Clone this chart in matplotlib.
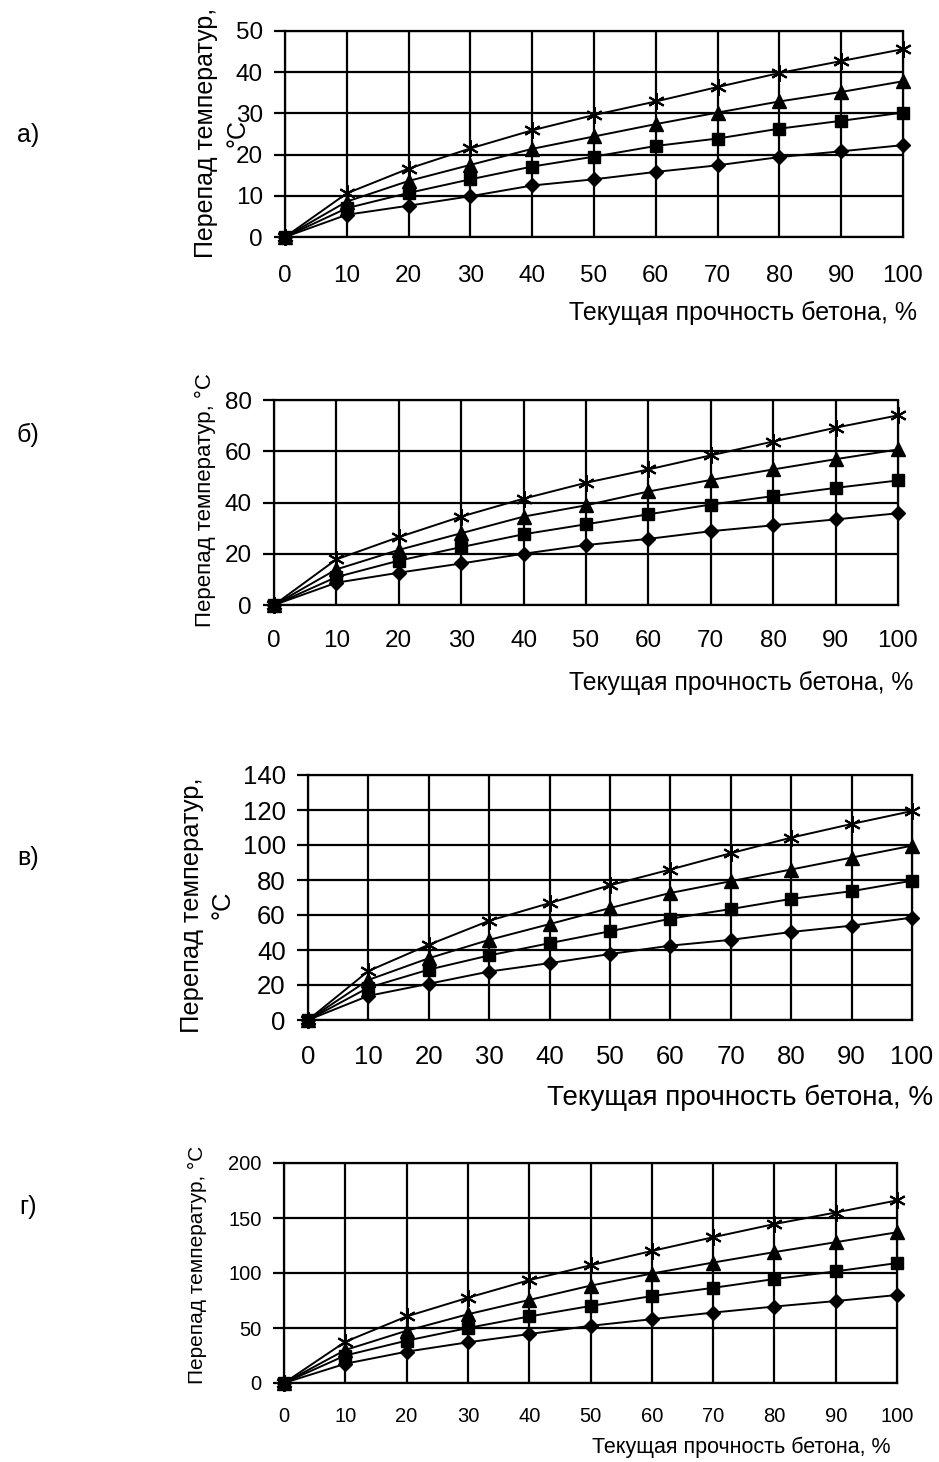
import matplotlib
matplotlib.use("Agg")
import matplotlib.pyplot as plt

plt.rcParams['font.family'] = ['Liberation Sans', 'DejaVu Sans']

strength = [0, 10, 20, 30, 40, 50, 60, 70, 80, 90, 100]

# panel a
a_star = [0, 10.6, 16.6, 21.5, 25.9, 29.6, 32.9, 36.4, 39.8, 42.7, 45.6]
a_tri = [0, 8.6, 13.6, 17.5, 21.4, 24.4, 27.4, 30.2, 32.9, 35.2, 37.8]
a_sq = [0, 7.0, 10.7, 14.0, 17.1, 19.5, 22.1, 23.9, 26.3, 28.2, 30.2]
a_dia = [0, 5.4, 7.6, 9.9, 12.5, 14.0, 15.8, 17.4, 19.4, 20.8, 22.3]

# panel b
b_star = [0, 17.8, 26.5, 34.5, 41.5, 47.7, 52.9, 58.4, 63.8, 69.2, 74.0]
b_tri = [0, 13.9, 21.5, 28.0, 34.5, 38.9, 44.3, 48.8, 52.9, 56.9, 60.7]
b_sq = [0, 10.9, 17.3, 22.6, 27.6, 31.5, 35.4, 39.2, 42.5, 45.7, 48.6]
b_dia = [0, 8.7, 12.6, 16.2, 20.0, 23.4, 25.8, 28.8, 31.1, 33.4, 35.8]

# panel v
v_star = [0, 28.0, 43.0, 56.7, 66.8, 77.0, 86.0, 95.3, 104.2, 112.0, 119.4]
v_tri = [0, 22.9, 35.3, 45.8, 54.8, 64.0, 72.6, 79.3, 86.0, 92.8, 99.6]
v_sq = [0, 18.5, 28.8, 36.9, 43.9, 50.7, 57.9, 63.4, 69.2, 73.6, 79.6]
v_dia = [0, 13.8, 20.7, 27.7, 32.5, 37.7, 42.5, 45.8, 50.3, 53.9, 58.5]

# panel g
g_star = [0, 37.5, 60.5, 77.5, 93.5, 107.0, 120.0, 132.5, 144.5, 155.0, 166.0]
g_tri = [0, 30.0, 47.5, 62.5, 75.5, 88.5, 99.5, 109.5, 119.0, 128.0, 137.0]
g_sq = [0, 25.0, 38.5, 50.0, 60.5, 70.0, 79.0, 86.5, 94.5, 101.5, 109.0]
g_dia = [0, 17.5, 28.5, 37.0, 44.5, 52.0, 58.0, 64.0, 69.5, 74.5, 80.0]

panels = [
    dict(letter="а)", series=[a_dia, a_sq, a_tri, a_star], ymax=50, ystep=10,
         box=(285, 903, 31, 237), fs=17.5, xfs=18, yfs=18, ylabel="Перепад температур,\n°С",
         ylab_xy=(222, 133), letter_xy=(28, 135), xlab_xy=(917, 313), tick_pad=20, ls=1.4),
    dict(letter="б)", series=[b_dia, b_sq, b_tri, b_star], ymax=80, ystep=20,
         box=(274, 898, 400, 605), fs=17.5, xfs=17.8, yfs=16, ylabel="Перепад температур, °С",
         ylab_xy=(205, 500), letter_xy=(28, 435), xlab_xy=(913, 683), tick_pad=18, ls=1.2),
    dict(letter="в)", series=[v_dia, v_sq, v_tri, v_star], ymax=140, ystep=20,
         box=(308, 912, 775, 1020), fs=18.5, xfs=20, yfs=18.4, ylabel="Перепад температур,\n°С",
         ylab_xy=(207, 905), letter_xy=(28, 858), xlab_xy=(933, 1098), tick_pad=18, ls=1.35),
    dict(letter="г)", series=[g_dia, g_sq, g_tri, g_star], ymax=200, ystep=50,
         box=(284, 897, 1163, 1383), fs=14.5, xfs=15.5, yfs=15, ylabel="Перепад температур, °С",
         ylab_xy=(197, 1265), letter_xy=(28, 1207), xlab_xy=(890, 1447), tick_pad=17, ls=1.2),
]

markers = ['D', 's', '^', (6, 2, 0)]
msizes = [7.5, 8.5, 9.5, 12]

W, H = 939, 1462
fig = plt.figure(figsize=(W / 100, H / 100), dpi=100)

for p in panels:
    l, r, t, b = p['box']
    ax = fig.add_axes([l / W, 1 - b / H, (r - l) / W, (b - t) / H])
    for s, m, ms in zip(p['series'], markers, msizes):
        ax.plot(strength, s, color='black', lw=1.4, marker=m, markersize=ms,
                markeredgewidth=1.5 if m == (6, 2, 0) else 1.0,
                markerfacecolor='black', markeredgecolor='black', clip_on=False, zorder=3)
    ax.set_xlim(0, 100)
    ax.set_ylim(0, p['ymax'])
    ax.set_xticks(strength)
    ax.set_yticks(range(0, p['ymax'] + 1, p['ystep']))
    ax.grid(True, color='black', lw=1.6)
    for sp in ax.spines.values():
        sp.set_linewidth(1.6)
        sp.set_color('black')
    ax.spines['right'].set_linewidth(1.0)
    ax.tick_params(axis='y', direction='out', length=8, width=1.6, labelsize=p['fs'], pad=8)
    ax.tick_params(axis='x', direction='out', length=0, labelsize=p['fs'], pad=p['tick_pad'])
    fig.text(p['xlab_xy'][0] / W, 1 - p['xlab_xy'][1] / H, "Текущая прочность бетона, %",
             ha='right', va='center', fontsize=p['xfs'])
    fig.text(p['ylab_xy'][0] / W, 1 - p['ylab_xy'][1] / H, p['ylabel'], rotation=90,
             ha='center', va='center', multialignment='center', fontsize=p['yfs'],
             linespacing=p['ls'])
    fig.text(p['letter_xy'][0] / W, 1 - p['letter_xy'][1] / H, p['letter'],
             ha='center', va='center', fontsize=18)

fig.savefig("out.png", dpi=100)
